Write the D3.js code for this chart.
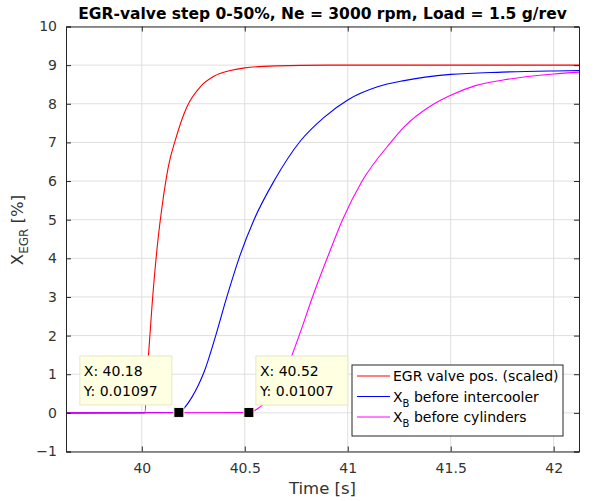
<!DOCTYPE html>
<html>
<head>
<meta charset="utf-8">
<script src="https://cdn.jsdelivr.net/npm/d3@7"></script>
<style>
    body { margin: 0; background: #fff; }
    text { font-family: "DejaVu Sans", sans-serif; }
</style>
</head>
<body>
<svg id="chart"></svg>
<script>
// values
const red_t  = [39.632, 40.0, 40.014, 40.03, 40.05, 40.079, 40.10, 40.13, 40.165, 40.22, 40.286, 40.35, 40.43, 40.5, 40.65, 40.9, 42.123];
const red_v  = [0, 0, 0, 1.3, 2.8, 4.5, 5.4, 6.4, 7.1, 7.93, 8.45, 8.71, 8.86, 8.93, 8.98, 9.0, 9.0];
const blue_t = [39.632, 40.18, 40.21, 40.245, 40.275, 40.302, 40.359, 40.413, 40.472, 40.545, 40.642, 40.772, 40.885, 41.0, 41.145, 41.274, 41.5, 41.75, 42.0, 42.123];
const blue_v = [0, 0.011, 0.15, 0.42, 0.72, 1.05, 2, 3, 4, 5, 6, 7.05, 7.65, 8.1, 8.44, 8.6, 8.76, 8.82, 8.85, 8.86];
const mag_t  = [39.632, 40.52, 40.56, 40.60, 40.65, 40.70, 40.764, 40.829, 40.90, 40.975, 41.07, 41.209, 41.274, 41.42, 41.5, 41.62, 41.76, 42.0, 42.123];
const mag_v  = [0, 0.01, 0.1, 0.27, 0.6, 1.1, 2, 3, 4, 5, 6, 7, 7.4, 8.0, 8.22, 8.47, 8.62, 8.77, 8.82];

const series_names = ['EGR valve pos. (scaled)', 'before intercooler', 'before cylinders'];
const series_colors = ['#ff0000', '#0000ff', '#ff00ff'];
const xticks = [40, 40.5, 41, 41.5, 42];
const yticks = [-1, 0, 1, 2, 3, 4, 5, 6, 7, 8, 9, 10];
const tips = [{ x: 40.18, y: 0.01097 }, { x: 40.52, y: 0.01007 }];

const width = 598, height = 501;
const margin = { top: 26.5, right: 19, bottom: 49.5, left: 66 };
const inner_width = width - margin.left - margin.right;
const inner_height = height - margin.top - margin.bottom;

const svg = d3.select('#chart')
    .attr('width', width)
    .attr('height', height);

const chart = svg.append('g')
    .attr('transform', `translate(${margin.left}, ${margin.top})`);

const xscale = d3.scaleLinear().domain([39.632, 42.123]).range([0, inner_width]);
const yscale = d3.scaleLinear().domain([-1, 10]).range([inner_height, 0]);

// grid
chart.append('g').selectAll('line')
    .data(xticks).join('line')
    .attr('x1', d => xscale(d)).attr('x2', d => xscale(d))
    .attr('y1', 0).attr('y2', inner_height)
    .attr('stroke', '#dfdfdf');
chart.append('g').selectAll('line')
    .data(yticks).join('line')
    .attr('y1', d => yscale(d)).attr('y2', d => yscale(d))
    .attr('x1', 0).attr('x2', inner_width)
    .attr('stroke', '#dfdfdf');

// lines
const series = [
    red_t.map((t, i) => ({ t, v: red_v[i] })),
    blue_t.map((t, i) => ({ t, v: blue_v[i] })),
    mag_t.map((t, i) => ({ t, v: mag_v[i] }))
];
const line = d3.line()
    .x(d => xscale(d.t))
    .y(d => yscale(d.v))
    .curve(d3.curveMonotoneX);

chart.append('g').selectAll('path')
    .data(series).join('path')
    .attr('d', line)
    .attr('fill', 'none')
    .attr('stroke', (d, i) => series_colors[i])
    .attr('stroke-width', 1.1);

// axes (ticks inside, box)
const axis_color = '#262626';
const xaxis = d3.axisBottom(xscale).tickValues(xticks).tickSize(-5).tickPadding(12).tickFormat(d3.format('~g'));
const yaxis = d3.axisLeft(yscale).tickValues(yticks).tickSize(-5).tickPadding(9).tickFormat(d3.format('~g'));
const xaxis_top = d3.axisTop(xscale).tickValues(xticks).tickSize(-5).tickFormat('');
const yaxis_right = d3.axisRight(yscale).tickValues(yticks).tickSize(-5).tickFormat('');

const groups = [
    chart.append('g').attr('transform', `translate(0, ${inner_height})`).call(xaxis),
    chart.append('g').call(yaxis),
    chart.append('g').call(xaxis_top),
    chart.append('g').attr('transform', `translate(${inner_width}, 0)`).call(yaxis_right)
];
groups.forEach(g => {
    g.select('.domain').attr('stroke', axis_color);
    g.selectAll('.tick line').attr('stroke', axis_color);
    g.selectAll('.tick text').attr('fill', '#333').style('font-size', '14px');
});

// labels
svg.append('text')
    .attr('x', margin.left + inner_width / 2)
    .attr('y', 19)
    .attr('text-anchor', 'middle')
    .style('font-size', '15.5px')
    .style('font-weight', 'bold')
    .attr('fill', '#000')
    .text('EGR-valve step 0-50%, Ne = 3000 rpm, Load = 1.5 g/rev');

svg.append('text')
    .attr('x', margin.left + inner_width / 2)
    .attr('y', 494)
    .attr('text-anchor', 'middle')
    .style('font-size', '16.5px')
    .attr('fill', '#333')
    .text('Time [s]');

const ylab = svg.append('text')
    .attr('transform', `translate(23, 230) rotate(-90)`)
    .attr('text-anchor', 'middle')
    .style('font-size', '16.5px')
    .attr('fill', '#333');
ylab.append('tspan').text('X');
ylab.append('tspan').attr('dy', 5).style('font-size', '12px').text('EGR');
ylab.append('tspan').attr('dy', -5).text('  [%]');

// data tips: first box left of its marker, second to the right
const tip_w = 92, tip_h = 49;
tips.forEach((d, i) => {
    const px = xscale(d.x), py = yscale(d.y);
    const bx = i === 0 ? px - 99 : px + 7;
    const g = chart.append('g');
    g.append('rect')
        .attr('x', bx).attr('y', py - 56.5)
        .attr('width', tip_w).attr('height', tip_h)
        .attr('fill', '#ffffe1')
        .attr('stroke', '#e6e6c8');
    g.append('text')
        .attr('x', bx + 4).attr('y', py - 36)
        .style('font-size', '14px')
        .text('X: ' + d.x);
    g.append('text')
        .attr('x', bx + 4).attr('y', py - 16.5)
        .style('font-size', '14px')
        .text('Y: ' + d.y);
    g.append('rect')
        .attr('x', px - 5).attr('y', py - 5)
        .attr('width', 10).attr('height', 10)
        .attr('fill', '#000')
        .attr('stroke', '#fffbd0');
});

// legend
const legend = svg.append('g').attr('transform', 'translate(352, 365)');
legend.append('rect')
    .attr('width', 211).attr('height', 71)
    .attr('fill', '#fff')
    .attr('stroke', axis_color);
series_names.forEach((name, i) => {
    const ly = 11 + i * 20.5;
    legend.append('line')
        .attr('x1', 5).attr('x2', 38)
        .attr('y1', ly).attr('y2', ly)
        .attr('stroke', series_colors[i]);
    const t = legend.append('text')
        .attr('x', 41).attr('y', ly + 5)
        .style('font-size', '14px')
        .attr('fill', '#000');
    if (i === 0) {
        t.text(name);
    } else {
        t.append('tspan').text('X');
        t.append('tspan').attr('dy', 5).style('font-size', '10px').text('B');
        t.append('tspan').attr('dy', -5).text(' ' + name);
    }
});
</script>
</body>
</html>
